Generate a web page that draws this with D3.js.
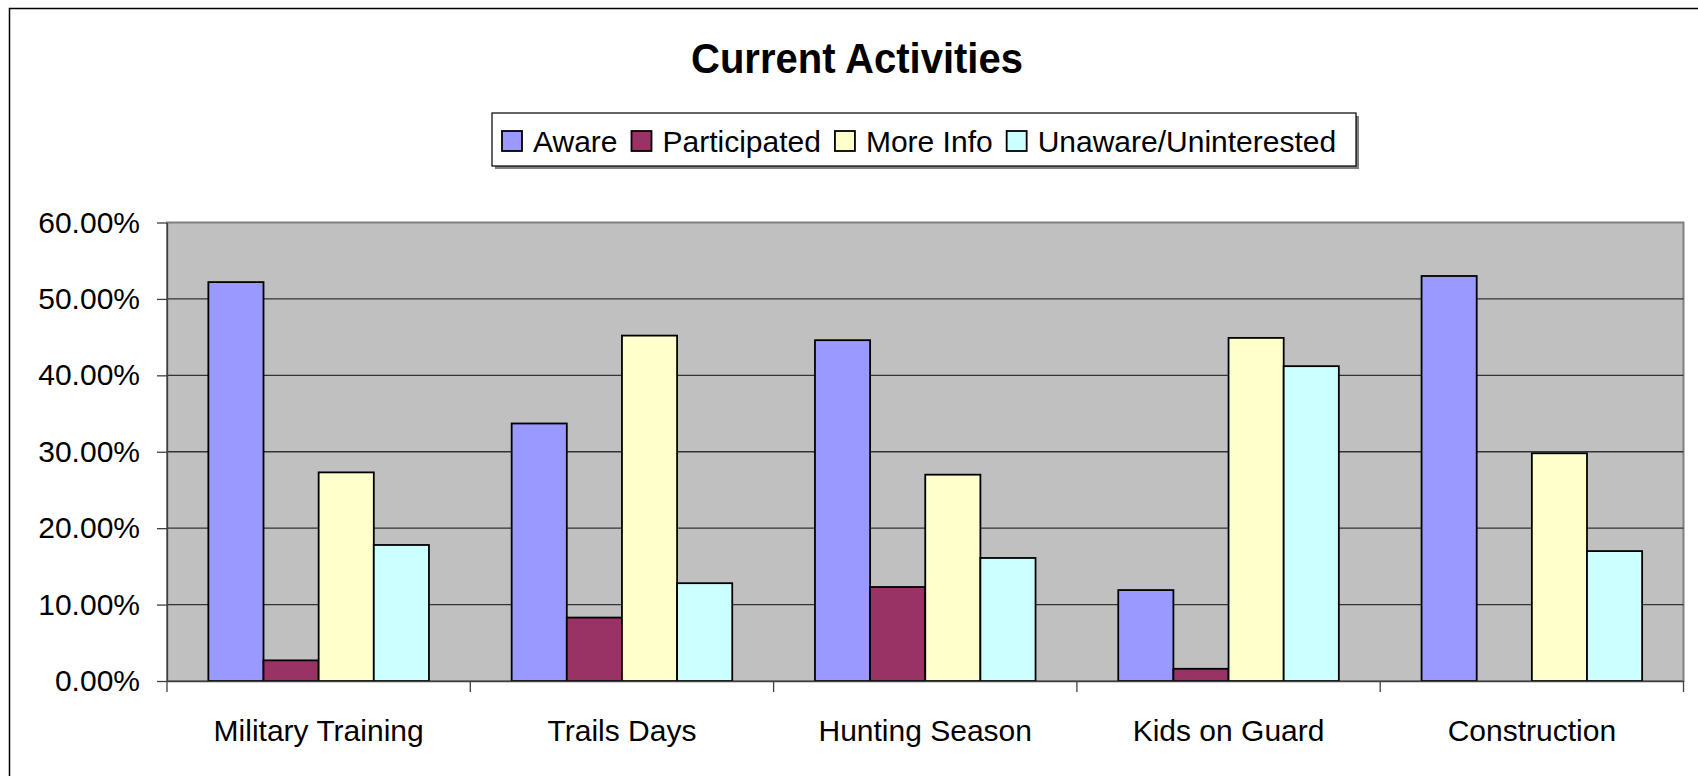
<!DOCTYPE html>
<html lang="en">
<head>
    <meta charset="UTF-8">
    <title>Current Activities</title>
    <script src="https://cdn.jsdelivr.net/npm/d3@7"></script>
    <style>
        body {
            margin: 0;
            background: white;
            font-family: "Liberation Sans", Arial, sans-serif;
        }
        svg { display: block; }
    </style>
</head>
<body>
    <div id="chart"></div>

    <script>
        const categories = ["Military Training", "Trails Days", "Hunting Season", "Kids on Guard", "Construction"];
        const seriesNames = ["Aware", "Participated", "More Info", "Unaware/Uninterested"];
        const seriesColors = ["#9999ff", "#993366", "#ffffcc", "#ccffff"];

        // values in percent
        const aware = [52.2, 33.7, 44.6, 11.9, 53.0];
        const participated = [2.7, 8.3, 12.3, 1.6, 0];
        const moreInfo = [27.3, 45.2, 27.0, 44.9, 29.8];
        const unaware = [17.8, 12.8, 16.1, 41.2, 17.0];
        const yTicks = [0, 0.1, 0.2, 0.3, 0.4, 0.5, 0.6];

        const allSeries = [aware, participated, moreInfo, unaware];

        const width = 1698, height = 776;
        const plot = { left: 167, right: 1683.5, top: 222.5, bottom: 681 };

        const svg = d3.select("#chart").append("svg")
            .attr("width", width)
            .attr("height", height);

        // outer chart border
        svg.append("rect")
            .attr("x", 9.5).attr("y", 8.5)
            .attr("width", 1800).attr("height", 900)
            .attr("fill", "white")
            .attr("stroke", "#000").attr("stroke-width", 1.5);

        // title (slightly stretched vertically like the original)
        svg.append("text")
            .attr("transform", "translate(857,73) scale(1,1.08)")
            .attr("text-anchor", "middle")
            .style("font-size", "40px")
            .style("font-weight", "bold")
            .text("Current Activities");

        // scales
        const x0 = d3.scaleBand()
            .domain(categories)
            .range([plot.left, plot.right])
            .padding(0);
        const band = x0.bandwidth();
        const gap = band * 0.75 / 5.5;
        const x1 = d3.scaleBand()
            .domain(seriesNames)
            .range([gap, band - gap])
            .padding(0);
        const y = d3.scaleLinear()
            .domain([0, 0.6])
            .range([plot.bottom, plot.top]);

        // plot area
        svg.append("rect")
            .attr("x", plot.left).attr("y", plot.top)
            .attr("width", plot.right - plot.left)
            .attr("height", plot.bottom - plot.top)
            .attr("fill", "#c0c0c0")
            .attr("stroke", "#808080").attr("stroke-width", 2);

        // gridlines
        svg.append("g")
            .selectAll("line")
            .data(yTicks.filter(t => t > 0 && t < 0.6))
            .enter().append("line")
            .attr("x1", plot.left).attr("x2", plot.right)
            .attr("y1", d => y(d)).attr("y2", d => y(d))
            .attr("stroke", "#333").attr("stroke-width", 1.3);

        // bars
        const groups = svg.append("g")
            .selectAll("g")
            .data(categories)
            .enter().append("g")
            .attr("transform", d => `translate(${x0(d)},0)`);

        groups.selectAll("rect")
            .data((c, i) => seriesNames.map((s, k) => ({ s, k, v: allSeries[k][i] / 100 })).filter(d => d.v > 0))
            .enter().append("rect")
            .attr("x", d => x1(d.s))
            .attr("y", d => y(d.v))
            .attr("width", x1.bandwidth())
            .attr("height", d => y(0) - y(d.v))
            .attr("fill", d => seriesColors[d.k])
            .attr("stroke", "#000")
            .attr("stroke-width", 1.8);

        // y axis
        const yAxis = svg.append("g")
            .attr("transform", `translate(${plot.left},0)`)
            .call(d3.axisLeft(y)
                .tickValues(yTicks)
                .tickFormat(d3.format(".2%"))
                .tickSize(10)
                .tickSizeOuter(0)
                .tickPadding(17));
        yAxis.select(".domain").attr("stroke", "#404040").attr("stroke-width", 1.3);
        yAxis.selectAll(".tick line").attr("stroke", "#404040").attr("stroke-width", 1.3);
        yAxis.selectAll("text")
            .style("font-size", "30px")
            .style("font-family", "'Liberation Sans', Arial, sans-serif")
            .attr("fill", "#000");

        // x axis
        const xAxis = svg.append("g")
            .attr("transform", `translate(0,${plot.bottom})`)
            .call(d3.axisBottom(x0).tickSize(0).tickPadding(38.5));
        xAxis.select(".domain").attr("stroke", "#404040").attr("stroke-width", 1.3);
        xAxis.selectAll("text")
            .style("font-size", "30px")
            .style("font-family", "'Liberation Sans', Arial, sans-serif")
            .attr("fill", "#000");

        // category boundary ticks
        const boundaries = categories.map(c => x0(c)).concat([plot.right]);
        svg.append("g")
            .selectAll("line")
            .data(boundaries)
            .enter().append("line")
            .attr("x1", d => d).attr("x2", d => d)
            .attr("y1", plot.bottom).attr("y2", plot.bottom + 11)
            .attr("stroke", "#404040").attr("stroke-width", 1.3);

        // legend
        const legend = svg.append("g");
        const legendBox = { x: 492, y: 113, w: 864, h: 53 };
        legend.append("rect")
            .attr("x", legendBox.x + 3).attr("y", legendBox.y + 3)
            .attr("width", legendBox.w).attr("height", legendBox.h)
            .attr("fill", "#808080");
        legend.append("rect")
            .attr("x", legendBox.x).attr("y", legendBox.y)
            .attr("width", legendBox.w).attr("height", legendBox.h)
            .attr("fill", "white")
            .attr("stroke", "#000").attr("stroke-width", 1.2);

        let lx = 502;
        seriesNames.forEach((name, i) => {
            legend.append("rect")
                .attr("x", lx).attr("y", 131)
                .attr("width", 20).attr("height", 20)
                .attr("fill", seriesColors[i])
                .attr("stroke", "#000").attr("stroke-width", 1.8);
            const t = legend.append("text")
                .attr("x", lx + 31).attr("y", 151.5)
                .style("font-size", "30px")
                .text(name);
            lx += 31 + t.node().getComputedTextLength() + 14;
        });
    </script>
</body>
</html>
